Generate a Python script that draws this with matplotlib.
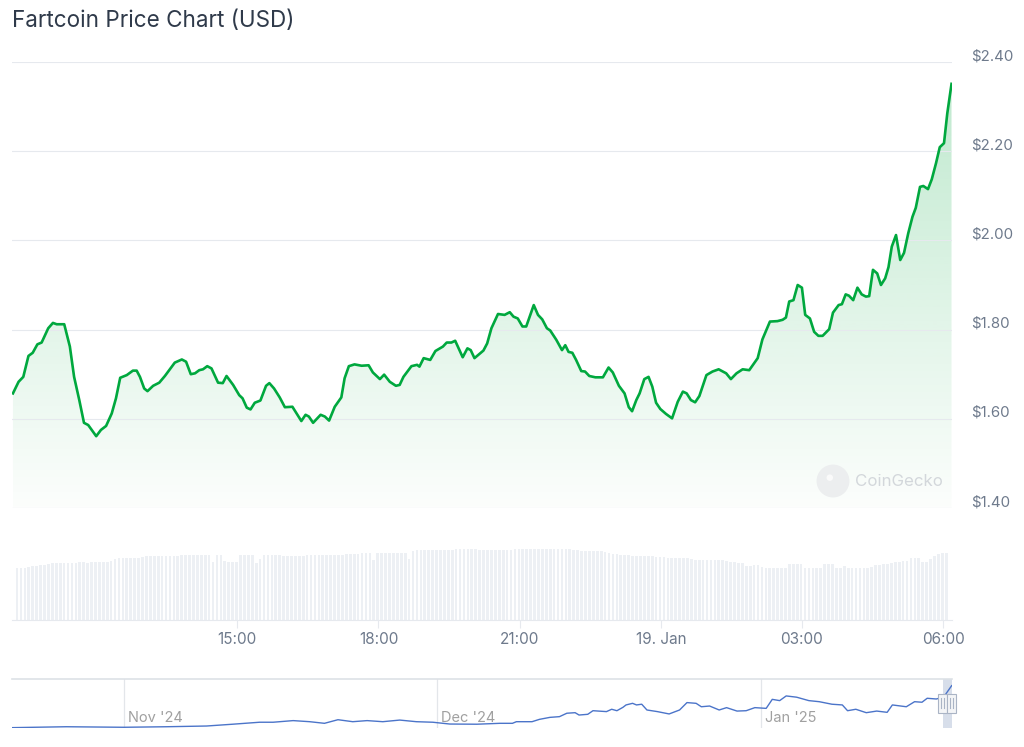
import numpy as np
import pandas as pd
import matplotlib
matplotlib.use("Agg")
import matplotlib.pyplot as plt
import matplotlib.dates as mdates
from matplotlib.colors import to_rgb
from matplotlib.patches import Rectangle
from matplotlib.transforms import ScaledTranslation, blended_transform_factory

plt.rcParams['font.family'] = ['Inter', 'DejaVu Sans']

# ---- price (hours since 18 Jan 00:00, USD) ----
price_hours = [
    10.23, 10.35, 10.45, 10.56, 10.65, 10.75, 10.84, 10.98, 11.08, 11.16,
    11.32, 11.44, 11.53, 11.64, 11.74, 11.83, 12.00, 12.10, 12.21, 12.33,
    12.42, 12.51, 12.65, 12.78, 12.86, 12.93, 13.02, 13.09, 13.21, 13.34,
    13.46, 13.67, 13.82, 13.91, 14.01, 14.10, 14.19, 14.27, 14.36, 14.45,
    14.59, 14.69, 14.77, 14.91, 15.04, 15.11, 15.20, 15.28, 15.37, 15.49,
    15.61, 15.68, 15.78, 15.90, 16.01, 16.17, 16.36, 16.45, 16.52, 16.61,
    16.77, 16.86, 16.95, 17.07, 17.21, 17.28, 17.37, 17.49, 17.64, 17.79,
    17.88, 18.03, 18.12, 18.24, 18.37, 18.45, 18.53, 18.70, 18.82, 18.87,
    18.96, 19.10, 19.21, 19.37, 19.45, 19.55, 19.63, 19.79, 19.89, 19.96,
    20.04, 20.23, 20.31, 20.40, 20.54, 20.68, 20.79, 20.87, 20.96, 21.06,
    21.14, 21.30, 21.39, 21.48, 21.58, 21.65, 21.78, 21.90, 21.97, 22.04,
    22.12, 22.20, 22.31, 22.39, 22.48, 22.61, 22.77, 22.89, 22.98, 23.11,
    23.23, 23.32, 23.39, 23.48, 23.55, 23.65, 23.74, 23.82, 23.90, 23.99,
    24.11, 24.24, 24.36, 24.47, 24.55, 24.64, 24.73, 24.82, 24.97, 25.10,
    25.23, 25.39, 25.49, 25.61, 25.74, 25.88, 26.06, 26.16, 26.32, 26.48,
    26.59, 26.66, 26.73, 26.82, 26.91, 27.00, 27.07, 27.17, 27.26, 27.35,
    27.44, 27.58, 27.66, 27.78, 27.85, 27.93, 28.00, 28.09, 28.18, 28.27,
    28.36, 28.43, 28.51, 28.60, 28.68, 28.77, 28.84, 28.91, 29.00, 29.09,
    29.17, 29.26, 29.35, 29.42, 29.51, 29.58, 29.68, 29.76, 29.85, 29.93,
    30.02, 30.09, 30.18,
]
prices = [
    1.657, 1.683, 1.694, 1.741, 1.748, 1.767, 1.771, 1.803, 1.815, 1.812,
    1.812, 1.762, 1.694, 1.642, 1.591, 1.586, 1.561, 1.575, 1.584, 1.612,
    1.646, 1.692, 1.698, 1.708, 1.708, 1.694, 1.668, 1.662, 1.674, 1.681,
    1.696, 1.726, 1.733, 1.728, 1.700, 1.702, 1.709, 1.711, 1.718, 1.713,
    1.681, 1.680, 1.696, 1.676, 1.653, 1.646, 1.625, 1.621, 1.636, 1.641,
    1.674, 1.680, 1.668, 1.648, 1.626, 1.627, 1.595, 1.609, 1.605, 1.591,
    1.609, 1.605, 1.596, 1.627, 1.648, 1.691, 1.718, 1.722, 1.719, 1.720,
    1.704, 1.689, 1.699, 1.683, 1.674, 1.676, 1.694, 1.718, 1.721, 1.717,
    1.736, 1.732, 1.752, 1.762, 1.771, 1.771, 1.775, 1.738, 1.758, 1.754,
    1.736, 1.753, 1.769, 1.803, 1.835, 1.833, 1.839, 1.829, 1.825, 1.807,
    1.807, 1.855, 1.833, 1.823, 1.803, 1.798, 1.777, 1.754, 1.765, 1.750,
    1.748, 1.732, 1.707, 1.706, 1.696, 1.693, 1.693, 1.715, 1.704, 1.674,
    1.657, 1.626, 1.617, 1.642, 1.657, 1.689, 1.694, 1.672, 1.636, 1.622,
    1.611, 1.601, 1.638, 1.661, 1.657, 1.642, 1.637, 1.651, 1.698, 1.706,
    1.711, 1.702, 1.689, 1.702, 1.711, 1.709, 1.736, 1.778, 1.818, 1.819,
    1.822, 1.827, 1.863, 1.866, 1.900, 1.894, 1.833, 1.825, 1.795, 1.786,
    1.786, 1.801, 1.838, 1.855, 1.857, 1.879, 1.876, 1.866, 1.894, 1.879,
    1.874, 1.875, 1.934, 1.926, 1.900, 1.915, 1.940, 1.986, 2.012, 1.956,
    1.972, 2.016, 2.053, 2.073, 2.120, 2.122, 2.115, 2.137, 2.173, 2.209,
    2.218, 2.285, 2.351,
]

# ---- 24h volume (USD bn), one bar every 5 minutes from 10:19 ----
vol_start_hour = 10.317
volumes = [
    1.11, 1.11, 1.11, 1.12, 1.14, 1.15, 1.16, 1.17, 1.18, 1.21, 1.21, 1.21,
    1.21, 1.22, 1.22, 1.21, 1.23, 1.23, 1.22, 1.23, 1.23, 1.23, 1.23, 1.24,
    1.26, 1.30, 1.31, 1.32, 1.32, 1.32, 1.32, 1.32, 1.33, 1.35, 1.35, 1.35,
    1.35, 1.35, 1.35, 1.35, 1.35, 1.36, 1.38, 1.38, 1.38, 1.38, 1.38, 1.38,
    1.38, 1.38, 1.23, 1.38, 1.38, 1.26, 1.23, 1.23, 1.23, 1.38, 1.38, 1.38,
    1.38, 1.21, 1.30, 1.38, 1.38, 1.38, 1.38, 1.38, 1.36, 1.36, 1.36, 1.36,
    1.37, 1.37, 1.38, 1.38, 1.38, 1.38, 1.38, 1.38, 1.38, 1.38, 1.38, 1.39,
    1.40, 1.40, 1.40, 1.40, 1.43, 1.43, 1.43, 1.28, 1.43, 1.43, 1.43, 1.43,
    1.43, 1.43, 1.43, 1.43, 1.30, 1.47, 1.49, 1.49, 1.49, 1.49, 1.49, 1.49,
    1.49, 1.49, 1.49, 1.49, 1.51, 1.51, 1.51, 1.51, 1.51, 1.51, 1.49, 1.49,
    1.49, 1.49, 1.49, 1.49, 1.49, 1.49, 1.49, 1.50, 1.51, 1.51, 1.51,
    1.51, 1.51, 1.51, 1.51, 1.51, 1.51, 1.51, 1.51, 1.51, 1.51, 1.50,
    1.49, 1.48, 1.47, 1.47, 1.47, 1.47, 1.46, 1.46, 1.45, 1.42, 1.40, 1.40,
    1.39, 1.38, 1.38, 1.37, 1.37, 1.37, 1.36, 1.36, 1.36, 1.34, 1.33, 1.33,
    1.32, 1.32, 1.32, 1.32, 1.32, 1.32, 1.30, 1.28, 1.28, 1.28, 1.28, 1.28,
    1.28, 1.28, 1.27, 1.25, 1.24, 1.24, 1.22, 1.21, 1.14, 1.14, 1.16, 1.17,
    1.13, 1.11, 1.11, 1.11, 1.11, 1.10, 1.11, 1.19, 1.19, 1.19, 1.19, 1.11,
    1.11, 1.11, 1.11, 1.11, 1.19, 1.19, 1.19, 1.11, 1.11, 1.14, 1.11, 1.11,
    1.11, 1.11, 1.11, 1.11, 1.12, 1.16, 1.17, 1.18, 1.19, 1.22, 1.24, 1.24,
    1.25, 1.26, 1.31, 1.31, 1.31, 1.24, 1.24, 1.29, 1.37, 1.40, 1.42, 1.42,
]

# ---- navigator (full history) ----
nav_dates = [
    "2024-10-21 08:00", "2024-10-26 12:00", "2024-11-01 00:00", "2024-11-05 02:00",
    "2024-11-08 22:00", "2024-11-11 10:00", "2024-11-14 00:00", "2024-11-15 07:00",
    "2024-11-17 05:00", "2024-11-18 19:00", "2024-11-20 05:00", "2024-11-21 12:00",
    "2024-11-22 22:00", "2024-11-24 07:00", "2024-11-25 19:00", "2024-11-27 10:00",
    "2024-11-29 00:00", "2024-11-30 14:00", "2024-12-02 05:00", "2024-12-04 19:00",
    "2024-12-07 00:00", "2024-12-08 05:00", "2024-12-08 14:00", "2024-12-10 02:00",
    "2024-12-10 19:00", "2024-12-11 19:00", "2024-12-12 17:00", "2024-12-13 10:00",
    "2024-12-14 05:00", "2024-12-14 14:00", "2024-12-15 10:00", "2024-12-15 22:00",
    "2024-12-17 05:00", "2024-12-17 17:00", "2024-12-18 05:00", "2024-12-18 19:00",
    "2024-12-19 02:00", "2024-12-19 17:00", "2024-12-20 02:00", "2024-12-20 14:00",
    "2024-12-21 02:00", "2024-12-22 02:00", "2024-12-23 05:00", "2024-12-24 05:00",
    "2024-12-24 22:00", "2024-12-25 19:00", "2024-12-26 07:00", "2024-12-27 02:00",
    "2024-12-28 00:00", "2024-12-28 17:00", "2024-12-29 17:00", "2024-12-30 14:00",
    "2024-12-31 10:00", "2025-01-01 12:00", "2025-01-02 02:00", "2025-01-02 19:00",
    "2025-01-03 10:00", "2025-01-04 10:00", "2025-01-05 14:00", "2025-01-06 14:00",
    "2025-01-07 19:00", "2025-01-08 19:00", "2025-01-09 07:00", "2025-01-10 02:00",
    "2025-01-11 02:00", "2025-01-12 02:00", "2025-01-13 02:00", "2025-01-13 14:00",
    "2025-01-14 22:00", "2025-01-15 17:00", "2025-01-16 10:00", "2025-01-16 22:00",
    "2025-01-17 19:00", "2025-01-18 12:00", "2025-01-19 06:10",
]
nav_prices = [
    0.02, 0.07, 0.04, 0.07, 0.11, 0.21, 0.32, 0.32, 0.41, 0.35, 0.26, 0.46,
    0.35, 0.41, 0.35, 0.44, 0.35, 0.32, 0.22, 0.21, 0.26, 0.26, 0.35, 0.35,
    0.48, 0.59, 0.63, 0.82, 0.85, 0.72, 0.76, 0.96, 0.91, 1.04, 0.96, 1.15,
    1.28, 1.37, 1.28, 1.32, 1.00, 0.91, 0.78, 1.00, 1.41, 1.37, 1.18, 1.22,
    1.00, 1.13, 0.94, 0.96, 1.13, 1.09, 1.59, 1.52, 1.78, 1.71, 1.52, 1.46,
    1.32, 1.28, 0.96, 1.04, 0.85, 0.94, 0.87, 1.28, 1.18, 1.46, 1.43, 1.65,
    1.61, 1.72, 2.35,
]
nav_month_starts = ["2024-11-01", "2024-12-01", "2025-01-01"]
nav_month_labels = ["Nov '24", "Dec '24", "Jan '25"]

y_ticks = [1.4, 1.6, 1.8, 2.0, 2.2, 2.4]
x_ticks = [15, 18, 21, 24, 27, 30]
x_tick_labels = ["15:00", "18:00", "21:00", "19. Jan", "03:00", "06:00"]

GREEN = "#00a83e"
GRID = "#e6e9ee"
LABEL = "#6e7a8c"

W, H = 1024, 747
fig = plt.figure(figsize=(W / 100, H / 100), dpi=100)
fig.patch.set_facecolor("white")

def box(x0, y0, x1, y1):
    # pixel box (top-left origin) -> figure fraction rect
    return [x0 / W, 1 - y1 / H, (x1 - x0) / W, (y1 - y0) / H]

x_lim = (10.21, 30.19)

# ---------------- price panel ----------------
ax = fig.add_axes(box(12, 62, 952, 508))
ax.set_facecolor("none")
for s in ax.spines.values():
    s.set_visible(False)

grad_alpha = np.linspace(0.26, 0.015, 256)
rgba = np.zeros((256, 1, 4))
rgba[..., :3] = to_rgb(GREEN)
rgba[:, 0, 3] = grad_alpha
im = ax.imshow(rgba, extent=[x_lim[0], x_lim[1], 1.4, 2.4], aspect="auto",
               origin="upper", zorder=1, interpolation="bilinear")
poly = ax.fill_between(price_hours, prices, 1.4, facecolor="none", edgecolor="none")
im.set_clip_path(poly.get_paths()[0], transform=ax.transData)

ax.plot(price_hours, prices, color=GREEN, lw=1.9, zorder=3, solid_joinstyle="round")

ax.set_xlim(*x_lim)
ax.set_ylim(1.4, 2.4)
ax.set_yticks(y_ticks)
ax.set_xticks([])
ax.grid(axis="y", color=GRID, lw=0.8, zorder=0)
ax.tick_params(axis="y", length=0, labelleft=False)

lab_tr = ax.get_yaxis_transform() + ScaledTranslation(0, 6 / 100, fig.dpi_scale_trans)
for v in y_ticks:
    ax.text(1.0202, v, f"${v:.2f}", transform=lab_tr, ha="left", va="center",
            fontsize=10.8, color=LABEL, clip_on=False)

# CoinGecko watermark
ax.scatter([0.8734], [0.0605], s=560, color="#eceeef", transform=ax.transAxes,
           zorder=2, edgecolors="none")
ax.scatter([0.8700], [0.0680], s=22, color="#fafafa", transform=ax.transAxes,
           zorder=2, edgecolors="none")
ax.text(0.8968, 0.0605, "CoinGecko", transform=ax.transAxes, ha="left", va="center",
        fontsize=12.2, color="#d3d7db", zorder=2)

# ---------------- volume panel ----------------
axv = fig.add_axes(box(12, 548, 952, 620))
vol_hours = vol_start_hour + np.arange(len(volumes)) / 12.0
axv.bar(vol_hours, volumes, width=0.057, color="#edf0f4", linewidth=0)
axv.set_xlim(*x_lim)
axv.set_ylim(0, 1.53)
for k, s in axv.spines.items():
    s.set_visible(k == "bottom")
axv.spines["bottom"].set_color(GRID)
axv.spines["bottom"].set_linewidth(0.8)
axv.set_yticks([])
axv.set_xticks(x_ticks)
axv.set_xticklabels(x_tick_labels)
axv.tick_params(axis="x", length=6, width=0.8, color=GRID, labelcolor=LABEL,
                labelsize=11, pad=3)

# ---------------- title ----------------
fig.text(12 / W, 1 - 21 / H, "Fartcoin Price Chart (USD)", ha="left", va="center",
         fontsize=16.2, color="#2f3a4a")

# ---------------- navigator ----------------
axn = fig.add_axes(box(12, 679, 952, 728))
nav_x = mdates.date2num(pd.to_datetime(nav_dates))
axn.plot(nav_x, nav_prices, color="#4b74c9", lw=1.0, zorder=3)
nav_lo = mdates.date2num(pd.Timestamp("2024-10-21 07:00"))
nav_hi = mdates.date2num(pd.Timestamp("2025-01-19 07:00"))
axn.set_xlim(nav_lo, nav_hi)
axn.set_ylim(0, 2.72)
for k, s in axn.spines.items():
    s.set_visible(k == "top")
axn.spines["top"].set_color("#dde1e6")
axn.spines["top"].set_linewidth(1.2)
axn.set_xticks([])
axn.set_yticks([])
axn.set_facecolor("none")

lbl_tr = blended_transform_factory(axn.transData, axn.transAxes) + \
    ScaledTranslation(4 / 100, 0, fig.dpi_scale_trans)
for d, lab in zip(nav_month_starts, nav_month_labels):
    dn = mdates.date2num(pd.Timestamp(d))
    axn.axvline(dn, color="#e3e6ea", lw=0.9, zorder=1)
    axn.text(dn, 0.2, lab, transform=lbl_tr, ha="left", va="center",
             fontsize=10.5, color="#a0a0a0")

sel_lo = mdates.date2num(pd.Timestamp("2025-01-18 10:12"))
sel_hi = mdates.date2num(pd.Timestamp("2025-01-19 06:11"))
axn.axvspan(sel_lo, sel_hi, color="#d3dbe8", alpha=0.9, zorder=2, lw=0)

# handles of the navigator selection
fig.canvas.draw()
for edge in (sel_lo, sel_hi):
    px, _ = axn.transData.transform((edge, 0))
    cy = H - 703
    r = Rectangle((px - 4.5, cy - 9.5), 9, 19, transform=None, facecolor="#f4f5f7",
                  edgecolor="#aab4c5", lw=0.8, zorder=5)
    fig.add_artist(r)
    for dx in (-1.5, 1.5):
        fig.add_artist(plt.Line2D([px + dx, px + dx], [cy - 5, cy + 5], transform=None,
                                  color="#aab4c5", lw=0.8, zorder=6))

fig.savefig("out.png", dpi=100)
